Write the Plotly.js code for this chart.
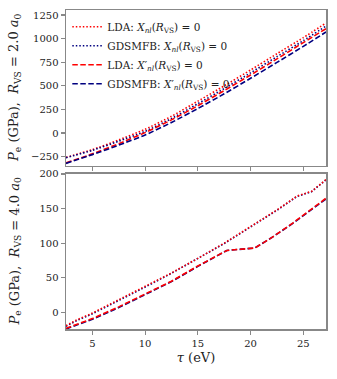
<!DOCTYPE html>
<html>
<head>
<meta charset="utf-8">
<script src="https://cdn.plot.ly/plotly-3.0.1.min.js"></script>
<style>html,body{margin:0;padding:0;background:#fff;}#chart{width:337px;height:379px;}</style>
</head>
<body>
<div id="chart"></div>
<script>
// ---- Top panel (R_VS = 2.0 a0) ----
const tauTop = [2.5, 5, 7.5, 10, 12.5, 15, 17.5, 20, 22.5, 25, 27.15];
const ldaXnlTop = [-258, -175, -72, 40, 178, 338, 500, 668, 840, 1010, 1165];
const gdsXnlTop = [-260, -183, -86, 18, 154, 311, 471, 638, 809, 978, 1133];
const ldaXpTop  = [-316, -220, -112, 5, 140, 290, 450, 615, 785, 958, 1105];
const gdsXpTop  = [-321, -228, -128, -20, 112, 260, 416, 580, 748, 918, 1070];

// ---- Bottom panel (R_VS = 4.0 a0) ----
const tauBotDot = [2.5, 3.5, 5, 7.5, 10, 12.5, 15, 17.5, 20, 22.5, 24.4, 25.8, 27.15];
const ldaXnlBot = [-19, -11, -1, 18, 37, 57, 78, 100, 124, 148, 168, 175, 192];
const gdsXnlBot = [-20, -12, -2, 17, 36.5, 56.5, 77.5, 99.5, 123.5, 147.5, 167.5, 174.5, 191.5];
const tauBotDash = [2.5, 3.5, 5, 7.5, 10, 12.5, 15, 17.75, 20.4, 22, 24, 25.5, 27.15];
const ldaXpBot  = [-23, -17, -9, 8, 26, 45, 67, 89.5, 93, 108, 129, 146, 165];
const gdsXpBot  = [-24, -18, -10, 7, 25.5, 44.5, 66.5, 89.5, 93, 108, 128.5, 145, 164];

const legendNames = [
  'LDA: <i>X</i><sub><i>nl</i></sub>(<i>R</i><sub>VS</sub>) = 0',
  'GDSMFB: <i>X</i><sub><i>nl</i></sub>(<i>R</i><sub>VS</sub>) = 0',
  'LDA: <i>X</i>′<sub><i>nl</i></sub>(<i>R</i><sub>VS</sub>) = 0',
  'GDSMFB: <i>X</i>′<sub><i>nl</i></sub>(<i>R</i><sub>VS</sub>) = 0'
];

const RED = '#ff0000', NAVY = '#000080';
const DOT = '1.5px,2px', DASH = '5.5px,2.5px';
const W = 1.6;

function tr(x, y, color, dash, name, show, xa, ya) {
  return {x: x, y: y, type: 'scatter', mode: 'lines', name: name, showlegend: show,
    legendgroup: name, xaxis: xa, yaxis: ya,
    line: {color: color, dash: dash, width: W, shape: 'spline', smoothing: 0.6}};
}
function trL(x, y, color, dash, name, xa, ya) {
  return {x: x, y: y, type: 'scatter', mode: 'lines', name: name, showlegend: false,
    legendgroup: name, xaxis: xa, yaxis: ya,
    line: {color: color, dash: dash, width: W}};
}

const data = [
  tr(tauTop, ldaXnlTop, RED, DOT, legendNames[0], true, 'x', 'y'),
  tr(tauTop, gdsXnlTop, NAVY, DOT, legendNames[1], true, 'x', 'y'),
  tr(tauTop, ldaXpTop, RED, DASH, legendNames[2], true, 'x', 'y'),
  tr(tauTop, gdsXpTop, NAVY, DASH, legendNames[3], true, 'x', 'y'),
  trL(tauBotDot, gdsXnlBot, NAVY, DOT, legendNames[1], 'x2', 'y2'),
  trL(tauBotDot, ldaXnlBot, RED, DOT, legendNames[0], 'x2', 'y2'),
  trL(tauBotDash, gdsXpBot, NAVY, DASH, legendNames[3], 'x2', 'y2'),
  trL(tauBotDash, ldaXpBot, RED, DASH, legendNames[2], 'x2', 'y2')
];

const FONT = 'DejaVu Serif';
const FRAME = '#888888';
const axBase = {
  showline: true, mirror: true, linecolor: FRAME, linewidth: 1.5,
  ticks: 'outside', ticklen: 4, tickwidth: 1.2, tickcolor: FRAME,
  showgrid: false, zeroline: false,
  tickfont: {family: FONT, size: 10, color: '#222'}
};

const layout = {
  width: 337, height: 379,
  margin: {l: 66, r: 11, t: 10, b: 50},
  paper_bgcolor: '#fff', plot_bgcolor: '#fff',
  font: {family: FONT, color: '#222'},
  showlegend: true,
  legend: {x: 0.005, y: 0.993, xanchor: 'left', yanchor: 'top',
    bgcolor: 'rgba(255,255,255,0)', borderwidth: 0,
    font: {family: FONT, size: 10.5, color: '#222'}, tracegroupgap: 0},
  xaxis: Object.assign({}, axBase, {range: [2.5, 27.15], dtick: 5, tick0: 0,
    showticklabels: false, anchor: 'y', matches: 'x2'}),
  yaxis: Object.assign({}, axBase, {range: [-345, 1303], dtick: 250, tick0: 0,
    domain: [0.512, 1], anchor: 'x'}),
  xaxis2: Object.assign({}, axBase, {range: [2.5, 27.15], dtick: 5, tick0: 0,
    anchor: 'y2',
    title: {text: '<i>τ</i> (eV)', font: {family: FONT, size: 13, color: '#222'}, standoff: 5}}),
  yaxis2: Object.assign({}, axBase, {range: [-24, 200], dtick: 50, tick0: 0,
    domain: [0, 0.486], anchor: 'x2'}),
  annotations: [
    {xref: 'paper', yref: 'paper', x: -0.196, y: 0.756, xanchor: 'center', yanchor: 'middle',
     textangle: -90, showarrow: false,
     text: '<i>P</i><sub>e</sub> (GPa),  <i>R</i><sub>VS</sub> = 2.0 <i>a</i><sub>0</sub>',
     font: {family: FONT, size: 13, color: '#222'}},
    {xref: 'paper', yref: 'paper', x: -0.196, y: 0.243, xanchor: 'center', yanchor: 'middle',
     textangle: -90, showarrow: false,
     text: '<i>P</i><sub>e</sub> (GPa),  <i>R</i><sub>VS</sub> = 4.0 <i>a</i><sub>0</sub>',
     font: {family: FONT, size: 13, color: '#222'}}
  ]
};

Plotly.newPlot('chart', data, layout, {displayModeBar: false, staticPlot: true});
</script>
</body>
</html>
